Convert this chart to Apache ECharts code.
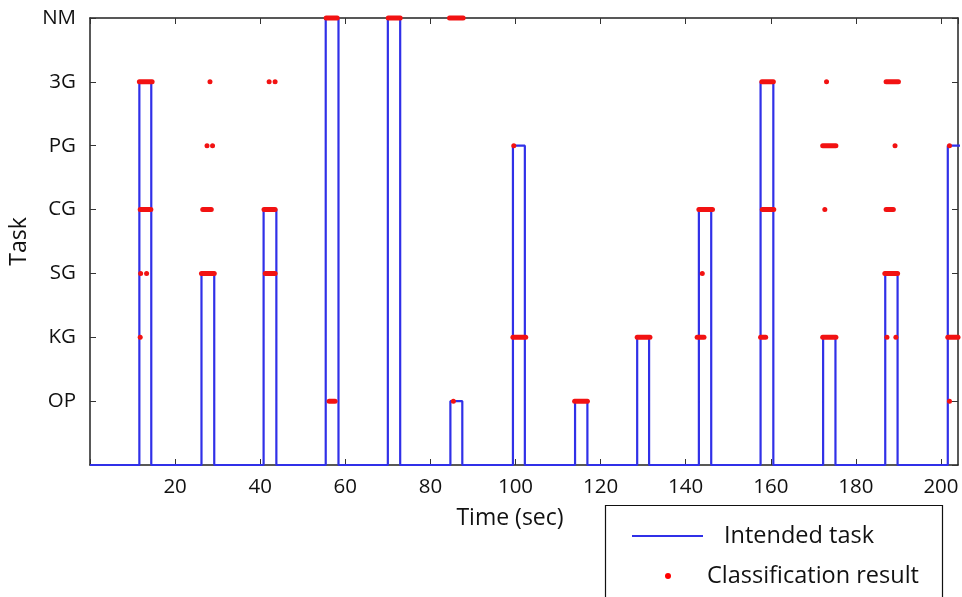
<!DOCTYPE html>
<html>
<head>
<meta charset="utf-8">
<script src="https://cdn.jsdelivr.net/npm/echarts@6/dist/echarts.min.js"></script>
<style>
  html, body { margin: 0; padding: 0; background: #fff; }
  #chart { width: 962px; height: 597px; }
</style>
</head>
<body>
<div id="chart"></div>
<script>
// task levels on the y axis (index = level)
const tasks = ['', 'OP', 'KG', 'SG', 'CG', 'PG', '3G', 'NM'];

// intended task pulses (seconds)
const pulseStart = [11.6, 26.2, 40.8, 55.4, 70.0, 84.7, 99.4, 114.0, 128.6, 143.1, 157.6, 172.3, 186.9, 201.6];
const pulseEnd   = [14.4, 29.2, 43.8, 58.4, 72.9, 87.5, 102.2, 116.9, 131.4, 146.0, 160.6, 175.2, 189.8, 205.0];
const pulseTask  = ['3G', 'SG', 'CG', 'NM', 'NM', 'OP', 'PG', 'OP', 'KG', 'CG', '3G', 'KG', 'SG', 'PG'];

// classification results: runs of dots (start, end, task)
const resultStart = [
  11.6, 28.2, 42.1, 43.5, 157.9, 173.1, 187.1,
  27.5, 28.8, 99.6, 172.2, 189.2, 202.0,
  11.8, 26.5, 40.9, 143.1, 158.0, 172.7, 187.1,
  11.9, 13.3, 26.2, 41.2, 143.9, 186.8,
  11.8, 99.4, 128.6, 142.7, 157.6, 172.2, 187.3, 189.4, 201.6,
  56.2, 85.4, 113.9, 202.0,
  55.5, 70.1, 84.5
];
const resultEnd = [
  14.6, 28.2, 42.1, 43.5, 160.6, 173.1, 190.0,
  27.5, 28.8, 99.6, 175.3, 189.2, 202.0,
  14.3, 28.5, 43.5, 146.3, 160.7, 172.7, 188.8,
  11.9, 13.3, 29.2, 43.5, 143.9, 189.8,
  11.8, 102.4, 131.6, 144.3, 158.8, 175.3, 187.3, 189.4, 204.0,
  57.6, 85.4, 116.9, 202.0,
  58.1, 72.9, 87.7
];
const resultTask = [
  '3G', '3G', '3G', '3G', '3G', '3G', '3G',
  'PG', 'PG', 'PG', 'PG', 'PG', 'PG',
  'CG', 'CG', 'CG', 'CG', 'CG', 'CG', 'CG',
  'SG', 'SG', 'SG', 'SG', 'SG', 'SG',
  'KG', 'KG', 'KG', 'KG', 'KG', 'KG', 'KG', 'KG', 'KG',
  'OP', 'OP', 'OP', 'OP',
  'NM', 'NM', 'NM'
];

const FONT = 'Open Sans';
const BLUE = '#3030e8';

// step line for the intended task
const stepData = [[0, 0]];
pulseStart.forEach((s, i) => {
  const lv = tasks.indexOf(pulseTask[i]);
  stepData.push([s, 0], [s, lv], [pulseEnd[i], lv], [pulseEnd[i], 0]);
});
stepData.push([210, 0]);

const runData = resultStart.map((s, i) => [s, resultEnd[i], tasks.indexOf(resultTask[i])]);

const chart = echarts.init(document.getElementById('chart'));

const xBase = {
  type: 'value', min: 0, max: 204, interval: 20,
  axisLine: { show: true, onZero: false, lineStyle: { color: '#222', width: 1.5 } },
  axisTick: { show: true, inside: true, length: 6, lineStyle: { color: '#333' } },
  splitLine: { show: false }
};
const yBase = {
  type: 'value', min: 0, max: 7, interval: 1,
  axisLine: { show: true, onZero: false, lineStyle: { color: '#222', width: 1.5 } },
  axisTick: { show: true, inside: true, length: 6, lineStyle: { color: '#333' } },
  splitLine: { show: false }
};

chart.setOption({
  animation: false,
  backgroundColor: '#fff',
  textStyle: { fontFamily: FONT },
  grid: { left: 90, right: 4, top: 18, bottom: 132 },
  xAxis: [
    Object.assign({}, xBase, {
      position: 'bottom',
      name: 'Time (sec)', nameLocation: 'middle', nameGap: 42,
      nameTextStyle: { fontSize: 23, color: '#111', fontFamily: FONT, padding: [0, 28, 0, 0] },
      axisLabel: {
        fontSize: 20.5, color: '#111', margin: 12, fontFamily: FONT, showMaxLabel: false,
        formatter: v => (v === 0 ? '' : String(v))
      }
    }),
    Object.assign({}, xBase, { position: 'top', axisLabel: { show: false } })
  ],
  yAxis: [
    Object.assign({}, yBase, {
      position: 'left',
      name: 'Task', nameLocation: 'middle', nameGap: 56,
      nameTextStyle: { fontSize: 23, color: '#111', fontFamily: FONT },
      axisLabel: { fontSize: 20.5, color: '#111', margin: 14, fontFamily: FONT, formatter: v => tasks[v] || '' }
    }),
    Object.assign({}, yBase, { position: 'right', axisLabel: { show: false } })
  ],
  legend: [
    {
      data: [{ name: 'Intended task', icon: 'rect' }],
      left: 627, top: 519, itemWidth: 71, itemHeight: 2,
      textStyle: { fontSize: 23.5, color: '#111', fontFamily: FONT, padding: [0, 0, 0, 16] }
    },
    {
      data: [{ name: 'Classification result', icon: 'circle' }],
      left: 660, top: 559, itemWidth: 6, itemHeight: 6,
      textStyle: { fontSize: 23.5, color: '#111', fontFamily: FONT, padding: [0, 0, 0, 31] }
    }
  ],
  graphic: [{
    type: 'rect', left: 603, top: 503,
    shape: { width: 337, height: 110 },
    style: { fill: 'none', stroke: '#111', lineWidth: 1.2 },
    z: 10
  }],
  series: [
    {
      name: 'Intended task',
      type: 'line',
      data: stepData,
      symbol: 'none',
      lineStyle: { color: BLUE, width: 2.2 },
      itemStyle: { color: BLUE },
      z: 3
    },
    {
      name: 'Classification result',
      type: 'custom',
      data: runData,
      itemStyle: { color: '#ff0000' },
      encode: { x: [0, 1], y: 2 },
      renderItem: (params, api) => {
        const a = api.coord([api.value(0), api.value(2)]);
        const b = api.coord([api.value(1), api.value(2)]);
        const r = 2.5;
        return {
          type: 'rect',
          shape: { x: a[0] - r, y: a[1] - r, width: b[0] - a[0] + 2 * r, height: 2 * r, r: r },
          style: { fill: '#f21212' },
          z2: 5
        };
      },
      z: 4
    }
  ]
});
</script>
</body>
</html>
